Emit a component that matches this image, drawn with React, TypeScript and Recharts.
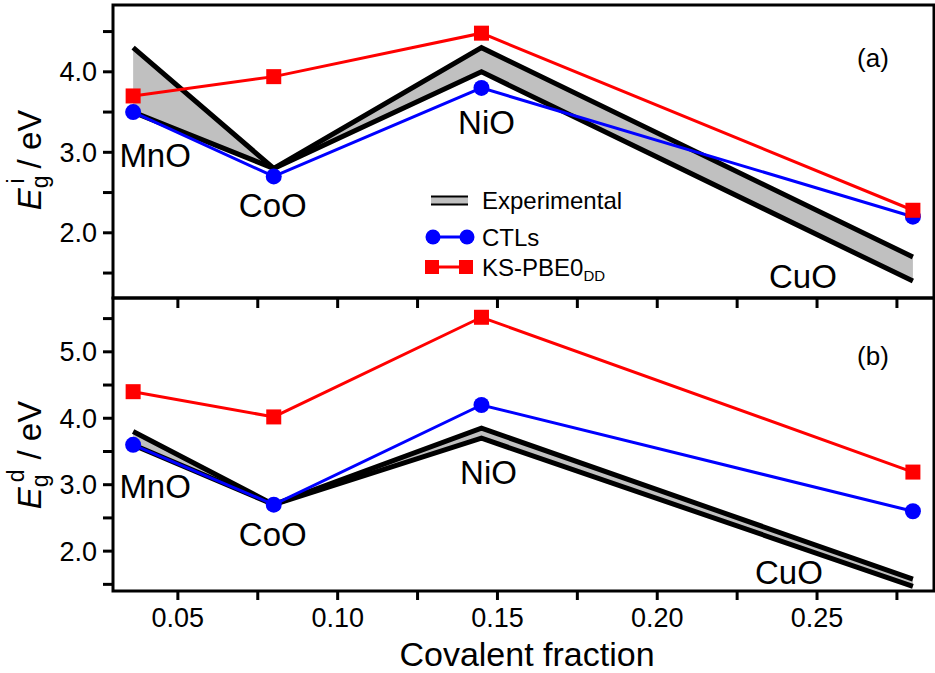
import { ComposedChart, Line, Area, XAxis, YAxis, ReferenceArea } from 'recharts';

const compounds = ['MnO', 'CoO', 'NiO', 'CuO'];
const covalentFraction = [0.036, 0.08, 0.145, 0.28];

// (a) indirect gap, eV
const ctlIndirect = [3.5, 2.7, 3.8, 2.2];
const ksIndirect = [3.7, 3.94, 4.48, 2.28];
const expIndirectHigh = [4.3, 2.8, 4.3, 1.7];
const expIndirectLow = [3.5, 2.8, 4.0, 1.4];

// (b) direct gap, eV
const ctlDirect = [3.6, 2.7, 4.2, 2.6];
const ksDirect = [4.4, 4.02, 5.52, 3.19];
const expDirectHigh = [3.8, 2.7, 3.85, 1.58];
const expDirectLow = [3.6, 2.7, 3.7, 1.47];

const xTicks = [0.05, 0.075, 0.1, 0.125, 0.15, 0.175, 0.2, 0.225, 0.25, 0.275];
const yTicksA = [1.5, 2, 2.5, 3, 3.5, 4, 4.5];
const yTicksB = [1.5, 2, 2.5, 3, 3.5, 4, 4.5, 5, 5.5];

const X_DOMAIN: [number, number] = [0.0297, 0.2866];
const FONT = 'Liberation Sans, Arial, sans-serif';
const GRAY = '#c0c0c0';

const buildRows = (ctl: number[], ks: number[], hi: number[], lo: number[]) =>
  compounds.map((name, i) => ({
    name,
    x: covalentFraction[i],
    ctl: ctl[i],
    ks: ks[i],
    hi: hi[i],
    lo: lo[i],
    band: [lo[i], hi[i]],
  }));

const rowsA = buildRows(ctlIndirect, ksIndirect, expIndirectHigh, expIndirectLow);
const rowsB = buildRows(ctlDirect, ksDirect, expDirectHigh, expDirectLow);

// label offsets (px) from the lower experimental point
const nameOffsetsA = [[22, 55], [-1, 49], [5, 62], [-110, 7]];
const nameOffsetsB = [[22, 53], [-1, 41], [7, 46], [-124, -2]];

const isMajor = (v: number, step: number) => Math.abs(v / step - Math.round(v / step)) < 1e-6;

const squareDot = (p: any) => (
  <rect key={`sq-${p.index}`} x={p.cx - 7.5} y={p.cy - 7.5} width={15} height={15} fill="#ff0000" />
);

const nameDot = (offsets: number[][]) => (p: any) => (
  <text
    key={`nm-${p.index}`}
    x={p.cx + offsets[p.index][0]}
    y={p.cy + offsets[p.index][1]}
    textAnchor="middle"
    fontSize={33}
    fontFamily={FONT}
    fill="#000"
  >
    {p.payload.name}
  </text>
);

const YTitle = ({ cy, sup }: { cy: number; sup: string }) => (
  <text
    x={41}
    y={cy}
    transform={`rotate(-90 41 ${cy})`}
    textAnchor="middle"
    fontSize={33}
    fontFamily={FONT}
    fill="#000"
  >
    <tspan fontStyle="italic">E</tspan>
    <tspan fontSize={23} dy={7}>g</tspan>
    <tspan fontSize={23} dx={-8} dy={-24}>{sup}</tspan>
    <tspan dx={10} dy={17}>/ eV</tspan>
  </text>
);

const tickStyle = { fill: '#000', fontSize: 27, fontFamily: FONT };
const lineStyle = { stroke: '#000', strokeWidth: 3 };

function Panel({ yDomain, yTicks, sup, titleY, offsets, bottom }: any) {
  return (
    <>
      <XAxis
        dataKey="x"
        type="number"
        domain={X_DOMAIN}
        ticks={xTicks}
        allowDataOverflow
        height={bottom ? 82 : 12}
        axisLine={false}
        tickLine={lineStyle}
        tickSize={bottom ? 9 : 10}
        tickMargin={8}
        tick={tickStyle}
        tickFormatter={(v: number) => (bottom && isMajor(v, 0.05) ? v.toFixed(2) : '')}
      />
      <YAxis
        type="number"
        domain={yDomain}
        ticks={yTicks}
        allowDataOverflow
        width={113}
        axisLine={false}
        tickLine={lineStyle}
        tickSize={10}
        tickMargin={6}
        tick={tickStyle}
        tickFormatter={(v: number) => (isMajor(v, 1) ? v.toFixed(1) : '')}
        label={{ content: () => <YTitle cy={titleY} sup={sup} /> }}
      />
      <Area type="linear" dataKey="band" stroke="none" fill={GRAY} fillOpacity={1} isAnimationActive={false} />
      <Line type="linear" dataKey="hi" stroke="#000" strokeWidth={5} dot={false} isAnimationActive={false} />
      <Line type="linear" dataKey="lo" stroke="#000" strokeWidth={5} dot={nameDot(offsets)} isAnimationActive={false} />
      <Line
        type="linear"
        dataKey="ctl"
        stroke="#0000ff"
        strokeWidth={3}
        dot={{ r: 8, fill: '#0000ff', stroke: 'none' }}
        isAnimationActive={false}
      />
      <Line type="linear" dataKey="ks" stroke="#ff0000" strokeWidth={3} dot={squareDot} isAnimationActive={false} />
      <ReferenceArea
        x1={X_DOMAIN[0]}
        x2={X_DOMAIN[1]}
        y1={yDomain[0]}
        y2={yDomain[1]}
        fill="none"
        stroke="#000"
        strokeWidth={3}
        ifOverflow="visible"
      />
    </>
  );
}

function LegendBox() {
  return (
    <g fontFamily={FONT} fontSize={24} fill="#000">
      <rect x={431} y={196.5} width={37} height={8} fill={GRAY} />
      <line x1={431} x2={468} y1={196.5} y2={196.5} stroke="#000" strokeWidth={2} />
      <line x1={431} x2={468} y1={204.5} y2={204.5} stroke="#000" strokeWidth={2} />
      <text x={482} y={209}>Experimental</text>

      <line x1={433} x2={467} y1={237} y2={237} stroke="#0000ff" strokeWidth={3} />
      <circle cx={433} cy={237} r={7.5} fill="#0000ff" />
      <circle cx={467} cy={237} r={7.5} fill="#0000ff" />
      <text x={482} y={245.5}>CTLs</text>

      <line x1={432} x2={466} y1={267} y2={267} stroke="#ff0000" strokeWidth={3} />
      <rect x={425} y={260} width={14} height={14} fill="#ff0000" />
      <rect x={459} y={260} width={14} height={14} fill="#ff0000" />
      <text x={482} y={276}>
        KS-PBE0<tspan fontSize={15} dy={5}>DD</tspan>
      </text>
    </g>
  );
}

export default function App() {
  return (
    <div style={{ position: 'absolute', left: 0, top: 0, width: 935, height: 673, background: '#fff', fontFamily: FONT }}>
      <div style={{ position: 'absolute', left: 0, top: 0 }}>
        <ComposedChart width={935} height={673} data={rowsB} margin={{ top: 298, right: 1, bottom: 0, left: 0 }}>
          {Panel({ yDomain: [1.4, 5.81], yTicks: yTicksB, sup: 'd', titleY: 455, offsets: nameOffsetsB, bottom: true })}
        </ComposedChart>
      </div>
      <div style={{ position: 'absolute', left: 0, top: 0 }}>
        <ComposedChart width={935} height={310} data={rowsA} margin={{ top: 5, right: 1, bottom: 0, left: 0 }}>
          {Panel({ yDomain: [1.19, 4.83], yTicks: yTicksA, sup: 'i', titleY: 160, offsets: nameOffsetsA, bottom: false })}
        </ComposedChart>
      </div>
      <svg width={935} height={673} style={{ position: 'absolute', left: 0, top: 0, pointerEvents: 'none' }}>
        <LegendBox />
        <text x={873} y={67} textAnchor="middle" fontSize={26} fontFamily={FONT}>(a)</text>
        <text x={873} y={365} textAnchor="middle" fontSize={26} fontFamily={FONT}>(b)</text>
        <text x={527} y={666} textAnchor="middle" fontSize={34} fontFamily={FONT}>Covalent fraction</text>
      </svg>
    </div>
  );
}
